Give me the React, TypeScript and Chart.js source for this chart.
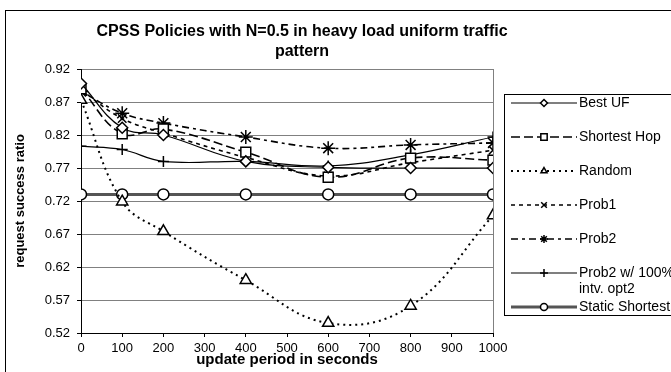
import React, { useEffect, useRef } from 'react';
import { Chart, registerables } from 'chart.js';
import { drawPoint } from 'chart.js/helpers';

Chart.register(...registerables);

const FONT = '"Liberation Sans", Arial, sans-serif';

const titleLines = ['CPSS Policies with N=0.5 in heavy load uniform traffic', 'pattern'];
const xAxisTitle = 'update period in seconds';
const yAxisTitle = 'request success ratio';

const updatePeriods = [0, 100, 200, 400, 600, 800, 1000];
const yTickValues = [0.52, 0.57, 0.62, 0.67, 0.72, 0.77, 0.82, 0.87, 0.92];

const bestUF = [0.898, 0.831, 0.82, 0.78, 0.771, 0.77, 0.77];
const shortestHop = [0.89, 0.822, 0.829, 0.794, 0.756, 0.785, 0.782];
const randomPolicy = [0.873, 0.719, 0.674, 0.6, 0.535, 0.561, 0.698];
const prob1 = [0.888, 0.845, 0.823, 0.786, 0.758, 0.778, 0.797];
const prob2 = [0.886, 0.853, 0.838, 0.817, 0.8, 0.805, 0.808];
const prob2Intv = [0.803, 0.798, 0.78, 0.78, 0.773, 0.79, 0.817];
const staticShortest = [0.73, 0.73, 0.73, 0.73, 0.73, 0.73, 0.73];

const seriesLabels = [
  ['Best UF'],
  ['Shortest Hop'],
  ['Random'],
  ['Prob1'],
  ['Prob2'],
  ['Prob2 w/ 100%', 'intv. opt2'],
  ['Static Shortest'],
];

const toPoints = (vals: number[]) => vals.map((y, i) => ({ x: updatePeriods[i], y }));

const styles = [
  { data: bestUF, dash: [], width: 1.2, color: '#000', point: 'rectRot', r: 5.5, lr: 3.5 },
  { data: shortestHop, dash: [9, 4], width: 1.6, color: '#000', point: 'rect', r: 7, lr: 4.5 },
  { data: randomPolicy, dash: [2, 4], width: 2, color: '#000', point: 'triangle', r: 6.5, lr: 3.5 },
  { data: prob1, dash: [4, 4], width: 1.6, color: '#000', point: 'crossRot', r: 6, lr: 4 },
  { data: prob2, dash: [7, 4, 3, 4], width: 1.6, color: '#000', point: 'star', r: 7, lr: 4 },
  { data: prob2Intv, dash: [], width: 1.2, color: '#000', point: 'cross', r: 5.5, lr: 4 },
  { data: staticShortest, dash: [], width: 3, color: '#555', point: 'circle', r: 5.5, lr: 3.5 },
];

const framePlugin = {
  id: 'framePlugin',
  beforeDatasetsDraw(chart: any) {
    const { ctx, chartArea } = chart;
    ctx.save();
    ctx.strokeStyle = '#808080';
    ctx.lineWidth = 1;
    ctx.beginPath();
    ctx.moveTo(Math.round(chartArea.right) + 0.5, chartArea.top);
    ctx.lineTo(Math.round(chartArea.right) + 0.5, chartArea.bottom);
    ctx.stroke();
    ctx.restore();
  },
  afterDraw(chart: any) {
    const { ctx } = chart;
    ctx.save();
    // outer chart frame
    ctx.strokeStyle = '#000';
    ctx.lineWidth = 1;
    ctx.strokeRect(5.5, 10.5, 800, 500);
    // title
    ctx.fillStyle = '#000';
    ctx.font = `bold 16px ${FONT}`;
    ctx.textAlign = 'center';
    ctx.textBaseline = 'alphabetic';
    ctx.fillText(titleLines[0], 302, 36);
    ctx.fillText(titleLines[1], 302, 56);

    // legend
    const boxL = 504.5, boxT = 94.5, boxB = 315.5;
    ctx.strokeRect(boxL, boxT, 400, boxB - boxT);
    ctx.font = `14px ${FONT}`;
    ctx.textAlign = 'left';
    ctx.textBaseline = 'middle';
    const lineL = 511, lineR = 577, textX = 579;
    chart.data.datasets.forEach((ds: any, i: number) => {
      const y = 103 + i * 34;
      const st = styles[i];
      ctx.save();
      ctx.strokeStyle = st.color;
      ctx.lineWidth = st.width;
      ctx.setLineDash(st.dash);
      ctx.beginPath();
      ctx.moveTo(lineL, y);
      ctx.lineTo(lineR, y);
      ctx.stroke();
      ctx.restore();
      ctx.save();
      ctx.strokeStyle = '#000';
      ctx.fillStyle = '#fff';
      ctx.lineWidth = 1.5;
      ctx.setLineDash([]);
      drawPoint(ctx, { pointStyle: st.point as any, radius: st.lr, rotation: 0, borderWidth: 1.5 }, (lineL + lineR) / 2, y);
      ctx.restore();
      ctx.fillStyle = '#000';
      seriesLabels[i].forEach((t, k) => ctx.fillText(t, textX, y + k * 16));
    });
    ctx.restore();
  },
};

export default function App() {
  const ref = useRef<HTMLCanvasElement>(null);
  useEffect(() => {
    if (!ref.current) return;
    Chart.defaults.font.family = FONT;
    Chart.defaults.color = '#000';
    const chart = new Chart(ref.current, {
      type: 'line',
      data: {
        datasets: styles.map((st, i) => ({
          label: seriesLabels[i].join(' '),
          data: toPoints(st.data),
          borderColor: st.color,
          borderWidth: st.width,
          borderDash: st.dash,
          tension: 0.4,
          fill: false,
          pointStyle: st.point as any,
          pointRadius: st.r,
          pointBorderColor: '#000',
          pointBackgroundColor: '#fff',
          pointBorderWidth: 1.5,
        })),
      },
      options: {
        animation: false,
        responsive: false,
        maintainAspectRatio: false,
        layout: { padding: { left: 0, right: 178, top: 69, bottom: 0 } },
        plugins: {
          legend: { display: false },
          tooltip: { enabled: false },
          title: { display: false },
        },
        scales: {
          x: {
            type: 'linear',
            min: 0,
            max: 1000,
            afterFit: (s: any) => { s.height = 39; },
            ticks: { stepSize: 100, autoSkip: false, maxRotation: 0, padding: 4, font: { size: 13 }, color: '#000', callback: (v: any) => String(v) },
            grid: { drawOnChartArea: false, drawTicks: true, tickLength: 4, tickColor: '#000' },
            border: { color: '#000', width: 1 },
            title: { display: true, text: xAxisTitle, font: { size: 15, weight: 'bold' }, padding: { top: 0, bottom: 3 }, color: '#000' },
          },
          y: {
            type: 'linear',
            min: 0.52,
            max: 0.92,
            afterFit: (s: any) => { s.width = 81; },
            afterBuildTicks: (s: any) => { s.ticks = yTickValues.map((value) => ({ value })); },
            ticks: { padding: 7, font: { size: 13 }, color: '#000', callback: (v: any) => Number(v).toFixed(2) },
            grid: { color: '#808080', lineWidth: 1, drawTicks: true, tickLength: 4, tickColor: '#000' },
            border: { color: '#000', width: 1 },
            title: { display: true, text: yAxisTitle, font: { size: 13, weight: 'bold' }, padding: { top: 13, bottom: 0 }, color: '#000' },
          },
        },
      },
      plugins: [framePlugin],
    });
    return () => chart.destroy();
  }, []);
  return (
    <div style={{ position: 'fixed', left: 0, top: 0, width: 671, height: 372, background: '#fff' }}>
      <canvas ref={ref} width={671} height={372} style={{ width: 671, height: 372, display: 'block' }} />
    </div>
  );
}
